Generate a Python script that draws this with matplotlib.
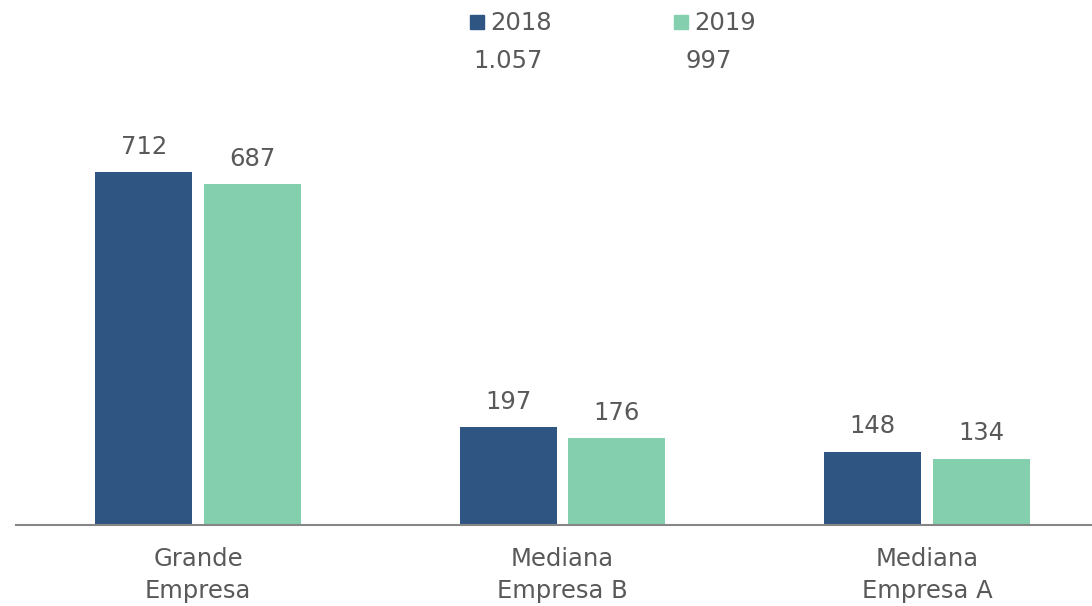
import matplotlib.pyplot as plt
from matplotlib.patches import Rectangle
import numpy as np

# data
categories = ["Grande\nEmpresa", "Mediana\nEmpresa B", "Mediana\nEmpresa A"]
years = ["2018", "2019"]
totals = ["1.057", "997"]
values_2018 = [712, 197, 148]
values_2019 = [687, 176, 134]

colors = ["#2F5583", "#84CFAD"]
text_color = "#595959"

plt.rcParams['font.family'] = ['DejaVu Sans']

fig = plt.figure(figsize=(10.92, 6.06), dpi=100)
W, H = 1092, 606
# axes from x=16 to 1092 px, baseline at y=525
ax = fig.add_axes([16 / W, (H - 525) / H, (1092 - 16) / W, (525 - 40) / H])

x = np.arange(len(categories))
width = 0.266
off = 0.149
b1 = ax.bar(x - off, values_2018, width, color=colors[0])
b2 = ax.bar(x + off, values_2019, width, color=colors[1])

for bars in (b1, b2):
    for rect in bars:
        h = rect.get_height()
        ax.annotate(f"{h:d}", (rect.get_x() + rect.get_width() / 2, h),
                    xytext=(0, 9.5), textcoords="offset points",
                    ha="center", va="bottom", fontsize=17.5, color=text_color)

ax.set_xlim(-0.5, 2.453)
ax.set_ylim(0, 978)
ax.set_yticks([])
ax.set_xticks(x)
ax.set_xticklabels(categories, fontsize=17.5, color=text_color, linespacing=1.4)
ax.tick_params(axis="x", length=0, pad=16)
for s in ["top", "right", "left"]:
    ax.spines[s].set_visible(False)
ax.spines["bottom"].set_color("#868686")
ax.spines["bottom"].set_linewidth(1.5)

# legend with totals
leg_x = [470, 674]
tot_x = [508, 709]
for i in range(2):
    fig.add_artist(Rectangle((leg_x[i] / W, (H - 29) / H), 14 / W, 14 / H,
                             transform=fig.transFigure, color=colors[i]))
    fig.text((leg_x[i] + 20) / W, (H - 23) / H, years[i], fontsize=17.5,
             color=text_color, va="center", ha="left")
    fig.text(tot_x[i] / W, (H - 61) / H, totals[i], fontsize=17.5,
             color=text_color, va="center", ha="center")

fig.savefig("out.png", dpi=100)
